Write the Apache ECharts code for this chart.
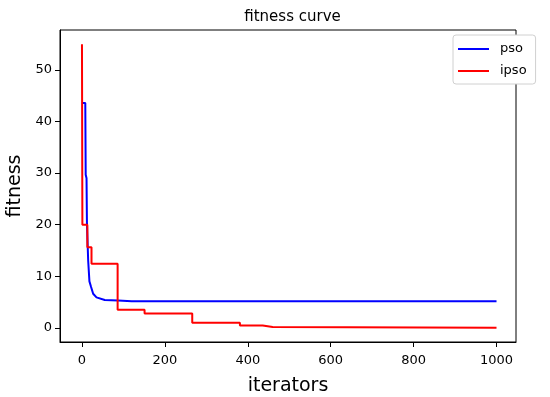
<!DOCTYPE html>
<html>
<head>
<meta charset="utf-8">
<script src="https://cdn.jsdelivr.net/npm/echarts@6/dist/echarts.min.js"></script>
<style>
html,body{margin:0;padding:0;background:#fff;}
#chart{width:550px;height:397px;}
</style>
</head>
<body>
<div id="chart"></div>
<script>
// ---- data ----
const psoIter    = [0, 8, 9, 11, 12, 15, 18, 22, 27, 35, 55, 87, 120, 1000];
const psoFitness = [43.6, 43.6, 29.7, 29.0, 20.2, 13.0, 9.0, 7.9, 6.6, 5.9, 5.4, 5.3, 5.15, 5.15];

const ipsoIter    = [0, 1, 13, 23, 86, 151, 266, 381, 436, 460, 1000];
const ipsoFitness = [55.0, 20.0, 15.6, 12.4, 3.5, 2.8, 1.0, 0.45, 0.15, 0.03, 0.03];

const xTicks = [0, 200, 400, 600, 800, 1000];
const yTicks = [0, 10, 20, 30, 40, 50];

const seriesNames = ['pso', 'ipso'];
const titleText = 'fitness curve';
const xName = 'iterators';
const yName = 'fitness';

function pairs(xs, ys) { return xs.map((x, i) => [x, ys[i]]); }

const FONT = 'DejaVu Sans';
const chart = echarts.init(document.getElementById('chart'), null, {renderer: 'canvas'});
chart.setOption({
  animation: false,
  backgroundColor: '#ffffff',
  title: {
    text: titleText,
    left: 287.5,
    top: 5,
    textAlign: 'center',
    textStyle: {fontFamily: FONT, fontSize: 15, fontWeight: 'normal', color: '#000'}
  },
  grid: {
    left: 60, right: 34, top: 30, bottom: 55,
    containLabel: false, outerBoundsMode: 'none',
    show: true, borderColor: '#000', borderWidth: 1, backgroundColor: 'transparent'
  },
  legend: {
    data: seriesNames,
    orient: 'vertical',
    left: 453, top: 35,
    padding: [6, 9, 5, 5],
    itemGap: 6,
    itemWidth: 31, itemHeight: 2,
    icon: 'rect',
    borderColor: '#d0d0d0', borderWidth: 1, borderRadius: 3,
    backgroundColor: '#fff',
    textStyle: {fontFamily: FONT, fontSize: 13, color: '#000', lineHeight: 16, padding: [0, 0, 0, 6]}
  },
  xAxis: {
    type: 'value', min: -53, max: 1047,
    name: xName, nameLocation: 'middle', nameGap: 35,
    nameTextStyle: {fontFamily: FONT, fontSize: 19, color: '#000'},
    axisLine: {show: true, onZero: false, lineStyle: {color: '#000', width: 1}},
    axisTick: {show: true, length: 5, customValues: xTicks, lineStyle: {color: '#000'}},
    axisLabel: {customValues: xTicks, margin: 12, fontFamily: FONT, fontSize: 13, color: '#000',
                formatter: v => String(v)},
    splitLine: {show: false}
  },
  yAxis: {
    type: 'value', min: -2.75, max: 57.75,
    name: yName, nameLocation: 'middle', nameGap: 32,
    nameTextStyle: {fontFamily: FONT, fontSize: 19, color: '#000'},
    axisLine: {show: true, onZero: false, lineStyle: {color: '#000', width: 1}},
    axisTick: {show: true, length: 5, customValues: yTicks, lineStyle: {color: '#000'}},
    axisLabel: {customValues: yTicks, margin: 8, fontFamily: FONT, fontSize: 13, color: '#000',
                formatter: v => String(v)},
    splitLine: {show: false}
  },
  series: [
    {
      name: seriesNames[0], type: 'line', data: pairs(psoIter, psoFitness),
      showSymbol: false, symbol: 'none',
      lineStyle: {color: '#0000ff', width: 2}, itemStyle: {color: '#0000ff'}
    },
    {
      name: seriesNames[1], type: 'line', step: 'end', data: pairs(ipsoIter, ipsoFitness),
      showSymbol: false, symbol: 'none',
      lineStyle: {color: '#ff0000', width: 2}, itemStyle: {color: '#ff0000'}
    }
  ]
});
</script>
</body>
</html>
